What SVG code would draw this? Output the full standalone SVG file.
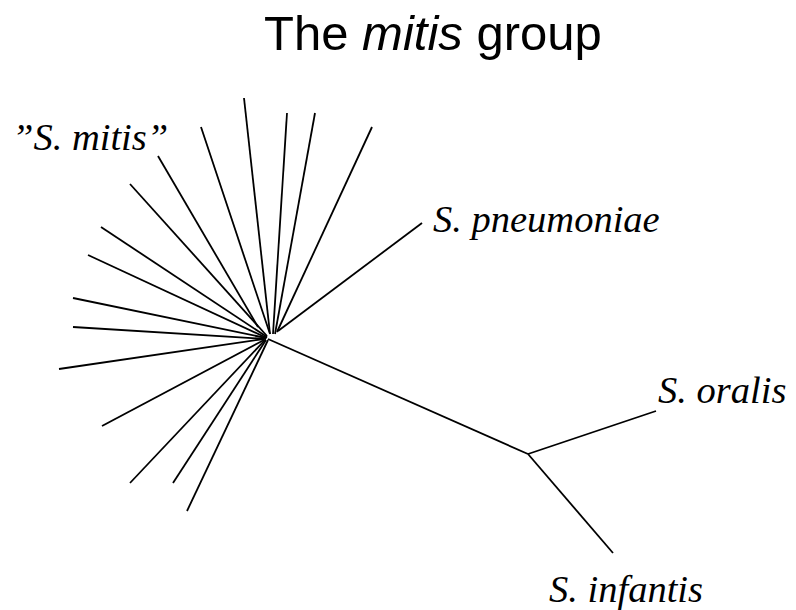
<svg xmlns="http://www.w3.org/2000/svg" width="796" height="610" viewBox="0 0 796 610">
<style>
.t{font-family:"Liberation Sans",Arial,sans-serif;font-size:49px;fill:#000}
.lab{font-family:"Liberation Serif","Times New Roman",serif;font-style:italic;font-size:38.5px;fill:#000}
.e{stroke:#000;stroke-width:1.8;fill:none;stroke-linecap:butt}
</style>
<rect width="796" height="610" fill="#fff"/>
<g id="title"><text class="t" x="264" y="50">The <tspan font-style="italic">mitis</tspan> group</text></g>
<g id="connectors">
<line class="e" x1="270" y1="334" x2="244" y2="98"/>
<line class="e" x1="273" y1="334" x2="287" y2="113"/>
<line class="e" x1="275" y1="334" x2="315" y2="113"/>
<line class="e" x1="277" y1="332" x2="372" y2="127"/>
<line class="e" x1="270" y1="334" x2="201" y2="127"/>
<line class="e" x1="258" y1="327" x2="158" y2="156"/>
<line class="e" x1="267" y1="336" x2="130" y2="184"/>
<line class="e" x1="267" y1="337" x2="101" y2="227"/>
<line class="e" x1="267" y1="338" x2="88" y2="255"/>
<line class="e" x1="266" y1="338" x2="73" y2="298"/>
<line class="e" x1="266" y1="339" x2="73" y2="327"/>
<line class="e" x1="264" y1="339" x2="59" y2="369"/>
<line class="e" x1="264" y1="340" x2="102" y2="426"/>
<line class="e" x1="265" y1="340" x2="130" y2="483"/>
<line class="e" x1="266" y1="340" x2="173" y2="483"/>
<line class="e" x1="268" y1="340" x2="187" y2="511"/>
<line class="e" x1="278" y1="331" x2="422" y2="223"/>
<line class="e" x1="268" y1="339" x2="528" y2="454"/>
<line class="e" x1="528" y1="454" x2="656" y2="411"/>
<line class="e" x1="528" y1="454" x2="613" y2="553"/>
</g>
<g id="hub"><circle cx="268" cy="338" r="0.1" fill="#000"/></g>
<g id="junction"><circle cx="528" cy="454" r="0.1" fill="#000"/></g>
<g id="node-mitis"><text class="lab" x="12" y="150">”S. mitis”</text></g>
<g id="node-pneumoniae"><text class="lab" x="433" y="232">S. pneumoniae</text></g>
<g id="node-oralis"><text class="lab" x="658" y="403">S. oralis</text></g>
<g id="node-infantis"><text class="lab" x="549" y="602">S. infantis</text></g>
</svg>
